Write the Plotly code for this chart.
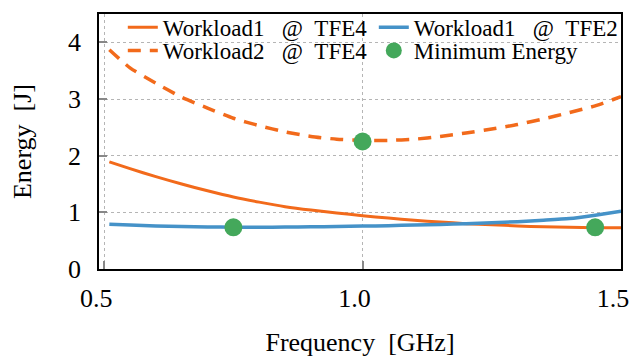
import plotly.graph_objects as go

# Frequency [GHz] grid
freq = [0.51, 0.55, 0.60, 0.65, 0.70, 0.75, 0.80, 0.85, 0.90, 0.95, 1.00,
        1.05, 1.10, 1.15, 1.20, 1.25, 1.30, 1.35, 1.40, 1.45, 1.50]

# Energy [J]
energy_w1_tfe4 = [1.89, 1.77, 1.63, 1.50, 1.38, 1.27, 1.18, 1.10, 1.04, 0.99, 0.94,
                  0.90, 0.86, 0.83, 0.80, 0.78, 0.76, 0.745, 0.735, 0.73, 0.73]
energy_w1_tfe2 = [0.79, 0.775, 0.76, 0.75, 0.742, 0.738, 0.738, 0.74, 0.745, 0.75, 0.757,
                  0.765, 0.775, 0.787, 0.80, 0.815, 0.835, 0.86, 0.89, 0.95, 1.02]
energy_w2_tfe4 = [3.87, 3.55, 3.28, 3.03, 2.84, 2.66, 2.53, 2.42, 2.34, 2.29, 2.27,
                  2.27, 2.29, 2.34, 2.40, 2.47, 2.55, 2.65, 2.76, 2.88, 3.04]

min_freq = [0.75, 1.0, 1.45]
min_energy = [0.735, 2.25, 0.735]

x_ticks = [0.5, 1.0, 1.5]
x_ticklabels = ["0.5", "1.0", "1.5"]
y_ticks = [0, 1, 2, 3, 4]

NB = "\u00a0"
name_w1_tfe4 = f"Workload1{NB*3}@{NB*2}TFE4"
name_w1_tfe2 = f"Workload1{NB*3}@{NB*2}TFE2"
name_w2_tfe4 = f"Workload2{NB*3}@{NB*2}TFE4"
name_min = "Minimum Energy"

ORANGE = "#F26A1B"
BLUE = "#4592C8"
GREEN = "#44A85B"
FONT = "Liberation Serif"

fig = go.Figure()
fig.add_trace(go.Scatter(x=freq, y=energy_w1_tfe4, mode="lines", name=name_w1_tfe4,
                         line=dict(color=ORANGE, width=3, shape="spline", smoothing=0.6),
                         legend="legend"))
fig.add_trace(go.Scatter(x=freq, y=energy_w1_tfe2, mode="lines", name=name_w1_tfe2,
                         line=dict(color=BLUE, width=3.5, shape="spline", smoothing=0.6),
                         legend="legend"))
fig.add_trace(go.Scatter(x=freq, y=energy_w2_tfe4, mode="lines", name=name_w2_tfe4,
                         line=dict(color=ORANGE, width=3.5, dash="13px,9px", shape="spline", smoothing=0.6),
                         legend="legend2"))
fig.add_trace(go.Scatter(x=min_freq, y=min_energy, mode="markers", name=name_min,
                         marker=dict(color=GREEN, size=18), legend="legend2"))

legend_common = dict(orientation="h", xanchor="left", yanchor="middle",
                     entrywidth=206, bgcolor="rgba(0,0,0,0)", borderwidth=0,
                     font=dict(family=FONT, size=23, color="black"))

fig.update_layout(
    width=640, height=358,
    margin=dict(l=99, r=19, t=6, b=86),
    paper_bgcolor="white", plot_bgcolor="white",
    font=dict(family=FONT, size=26, color="black"),
    legend=dict(x=0.0456, y=0.948, **legend_common),
    legend2=dict(x=0.0456, y=0.857, **legend_common),
    xaxis=dict(range=[0.49, 1.5], tickvals=x_ticks, ticktext=x_ticklabels,
               ticks="inside", ticklen=8, tickwidth=1.5, tickcolor="#888888",
               showline=True, linecolor="black", linewidth=1.5, mirror=True,
               showgrid=True, gridcolor="#B5B5B5", griddash="dot", gridwidth=1,
               zeroline=False, ticklabelshift=-8, ticklabelstandoff=5,
               tickfont=dict(family=FONT, size=26),
               title=dict(text=f"Frequency{NB*2}[GHz]", standoff=21, font=dict(family=FONT, size=26))),
    yaxis=dict(range=[0, 4.5], tickvals=y_ticks,
               ticks="inside", ticklen=8, tickwidth=1.5, tickcolor="#888888",
               showline=True, linecolor="black", linewidth=1.5, mirror=True,
               showgrid=True, gridcolor="#B5B5B5", griddash="dot", gridwidth=1,
               zeroline=False, ticklabelstandoff=11,
               tickfont=dict(family=FONT, size=26),
               title=dict(text=f"Energy{NB*2}[J]", standoff=29, font=dict(family=FONT, size=26))),
)

fig.write_html("out.html")
